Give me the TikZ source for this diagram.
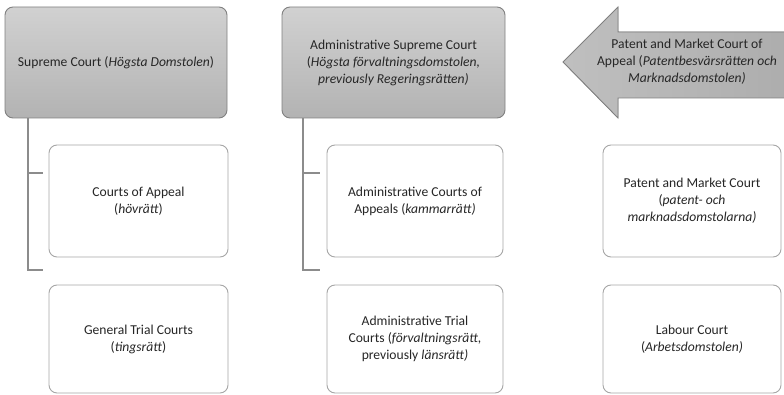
\documentclass[tikz,border=0pt]{standalone}
\usepackage{fontspec}
\setmainfont{Carlito}
\begin{document}
\begin{tikzpicture}[x=1pt, y=-1pt,
    topcourt/.style ={rectangle, rounded corners=8pt, draw=black!50, line width=0.9pt,
      top color=black!18, bottom color=black!30, align=center, text=black!85,
      minimum height=111pt, inner sep=0pt, font=\fontsize{13.6}{17}\selectfont},
    lowcourt/.style ={rectangle, rounded corners=8pt, draw=black!35, line width=0.9pt,
      fill=white, align=center, text=black!85, minimum width=178pt,
      inner sep=0pt, font=\fontsize{13.6}{17}\selectfont},
    link/.style ={draw=black!45, line width=1.4pt}]
   \useasboundingbox (0,0) rectangle (784,395);
   % top row
   \node[topcourt, minimum width=222pt] (sup) at (116,62.5)
     {Supreme Court (\textit{Högsta Domstolen})};
   \node[topcourt, minimum width=223pt] (admsup) at (393.5,62.5)
     {Administrative Supreme Court\\(\textit{Högsta förvaltningsdomstolen,}\\\textit{previously Regeringsrätten)}};
   \filldraw[draw=black!50, line width=0.9pt, left color=black!25, right color=black!32]
     (784,32) -- (618,32) -- (618,7) -- (563,62) -- (618,118) -- (618,98) -- (784,98);
   \node[align=center, text=black!85, font=\fontsize{13.6}{17}\selectfont] (patapp) at (687,62)
     {Patent and Market Court of\\Appeal (\textit{Patentbesvärsrätten och}\\\textit{Marknadsdomstolen)}};
   % appeal row
   \node[lowcourt, minimum width=179pt, minimum height=112pt] (app) at (138.5,201)
     {Courts of Appeal\\(\textit{hövrätt})};
   \node[lowcourt, minimum width=176pt, minimum height=112pt] (admapp) at (415,201)
     {Administrative Courts of\\Appeals (\textit{kammarrätt)}};
   \node[lowcourt, minimum height=112pt] (patmark) at (692,201)
     {Patent and Market Court\\(\textit{patent- och}\\\textit{marknadsdomstolarna)}};
   % trial row
   \node[lowcourt, minimum width=179pt, minimum height=108pt] (trial) at (138.5,339)
     {General Trial Courts\\(\textit{tingsrätt})};
   \node[lowcourt, minimum width=176pt, minimum height=108pt] (admtrial) at (415,339)
     {Administrative Trial\\Courts (\textit{förvaltningsrätt,}\\previously \textit{länsrätt)}};
   \node[lowcourt, minimum height=108pt] (labour) at (692,339)
     {Labour Court\\(\textit{Arbetsdomstolen)}};
   % hierarchy lines
   \draw[link] (sup.south -| 28,0) -- (28,270) -- (43,270);
   \draw[link] (28,173) -- ([xshift=-6pt]app.west |- 0,173);
   \draw[link] (admsup.south -| 303,0) -- (303,270) -- (320,270);
   \draw[link] (303,173) -- ([xshift=-7pt]admapp.west |- 0,173);
\end{tikzpicture}
\end{document}
